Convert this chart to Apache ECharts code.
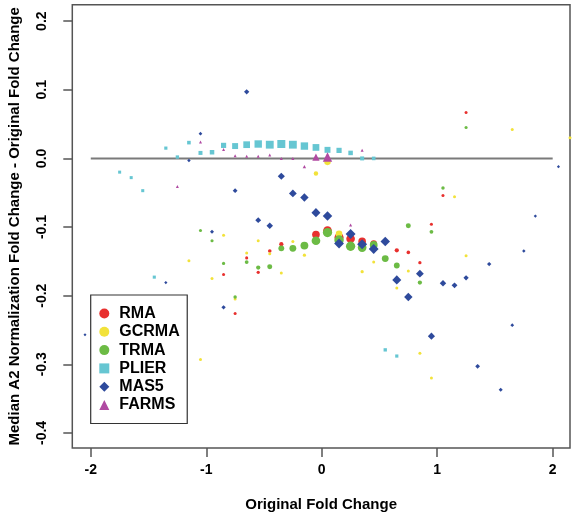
<!DOCTYPE html>
<html>
<head>
<meta charset="utf-8">
<script src="https://cdn.jsdelivr.net/npm/echarts@6/dist/echarts.min.js"></script>
<style>
html,body{margin:0;padding:0;background:#fff;}
#chart{width:576px;height:519px;}
</style>
</head>
<body>
<div id="chart"></div>
<script>
// ---- data ----
const seriesNames = ['RMA', 'GCRMA', 'TRMA', 'PLIER', 'MAS5', 'FARMS'];
const xTicks = [-2, -1, 0, 1, 2];
const yTicks = [-0.4, -0.3, -0.2, -0.1, 0.0, 0.1, 0.2];
const refLine = [[-2, 0], [2, 0]];

const rmaData = [[-0.85,-0.169],[-0.75,-0.226],[-0.65,-0.145],[-0.55,-0.166],[-0.45,-0.135],[-0.35,-0.125],
  [-0.05,-0.111],[0.05,-0.105],[0.15,-0.115],[0.25,-0.117],[0.35,-0.121],[0.45,-0.124],[0.65,-0.134],
  [0.75,-0.137],[0.85,-0.152],[0.95,-0.096],[1.05,-0.054],[1.25,0.067]];
const gcrmaData = [[-1.15,-0.149],[-1.05,-0.293],[-0.95,-0.175],[-0.85,-0.112],[-0.75,-0.205],[-0.65,-0.138],
  [-0.55,-0.120],[-0.45,-0.139],[-0.35,-0.167],[-0.25,-0.121],[-0.15,-0.141],[-0.05,-0.022],[0.05,-0.005],
  [0.15,-0.110],[0.25,-0.131],[0.35,-0.165],[0.45,-0.151],[0.65,-0.189],[0.75,-0.164],[0.85,-0.284],
  [0.95,-0.320],[1.15,-0.056],[1.25,-0.142],[1.65,0.042],[2.15,0.030]];
const trmaData = [[-1.05,-0.105],[-0.95,-0.120],[-0.85,-0.153],[-0.75,-0.202],[-0.65,-0.151],[-0.55,-0.159],
  [-0.45,-0.158],[-0.35,-0.131],[-0.25,-0.131],[-0.15,-0.127],[-0.05,-0.120],[0.05,-0.108],[0.15,-0.119],
  [0.25,-0.128],[0.35,-0.130],[0.45,-0.126],[0.55,-0.146],[0.65,-0.156],[0.75,-0.098],[0.85,-0.181],
  [0.95,-0.107],[1.05,-0.043],[1.25,0.045]];
const plierData = [[-1.75,-0.020],[-1.65,-0.028],[-1.55,-0.047],[-1.45,-0.173],[-1.35,0.015],[-1.25,0.002],
  [-1.15,0.023],[-1.05,0.008],[-0.95,0.009],[-0.85,0.019],[-0.75,0.018],[-0.65,0.020],[-0.55,0.021],
  [-0.45,0.020],[-0.35,0.021],[-0.25,0.020],[-0.15,0.018],[-0.05,0.016],[0.05,0.0125],[0.15,0.0117],
  [0.25,0.008],[0.35,0.0],[0.45,0.0],[0.55,-0.279],[0.65,-0.288]];
const mas5Data = [[-2.05,-0.257],[-1.35,-0.181],[-1.15,-0.003],[-1.05,0.036],[-0.95,-0.107],[-0.85,-0.217],
  [-0.75,-0.047],[-0.65,0.097],[-0.55,-0.090],[-0.45,-0.098],[-0.35,-0.026],[-0.25,-0.051],[-0.15,-0.057],
  [-0.05,-0.079],[0.05,-0.084],[0.15,-0.124],[0.25,-0.110],[0.35,-0.125],[0.45,-0.132],[0.55,-0.121],
  [0.65,-0.177],[0.75,-0.202],[0.85,-0.168],[0.95,-0.259],[1.05,-0.182],[1.15,-0.185],[1.25,-0.174],
  [1.35,-0.303],[1.45,-0.154],[1.55,-0.337],[1.65,-0.243],[1.75,-0.135],[1.85,-0.084],[2.05,-0.012]];
const farmsData = [[-1.25,-0.041],[-1.05,0.024],[-0.85,0.013],[-0.75,0.004],[-0.65,0.003],[-0.55,0.003],
  [-0.45,0.005],[-0.35,0.0],[-0.25,0.0],[-0.15,-0.012],[-0.05,0.002],[0.05,0.002],[0.25,-0.097],[0.35,0.012]];

// ---- styling ----
const FONT = 'Liberation Sans, Arial, Helvetica, sans-serif';
const colors = ['#e8302e', '#f2e23a', '#6cbb45', '#66c6d2', '#2e4a9c', '#b04aa2'];
const symbols = ['circle', 'circle', 'circle', 'rect', 'diamond', 'triangle'];
function sizeFn(c, w, maxS, minS) {
  return function (v) { return minS + (maxS - minS) * Math.exp(-Math.pow((v[0] - c) / w, 2)); };
}
const sizeFns = [sizeFn(0.15, 0.4, 9, 3), sizeFn(0.1, 0.15, 7, 3), sizeFn(0.15, 0.55, 9.5, 3),
  sizeFn(-0.35, 0.55, 8, 3), sizeFn(0.3, 0.9, 10, 3), sizeFn(0.02, 0.1, 10, 3)];
const allData = [rmaData, gcrmaData, trmaData, plierData, mas5Data, farmsData];

const chart = echarts.init(document.getElementById('chart'), null, {renderer: 'canvas'});

const series = [{
  type: 'line', data: refLine, silent: true, showSymbol: false, symbol: 'none',
  lineStyle: {color: '#7a7a7a', width: 2}, z: 1, animation: false
}];
seriesNames.forEach(function (name, i) {
  series.push({
    name: name, type: 'scatter', data: allData[i], symbol: symbols[i],
    symbolSize: sizeFns[i], itemStyle: {color: colors[i], opacity: 1},
    z: 2 + i, animation: false
  });
});

chart.setOption({
  animation: false,
  backgroundColor: '#fff',
  grid: {left: 72.3, right: 6, top: 4.7, bottom: 71, show: true, borderColor: '#555', borderWidth: 1.5,
    backgroundColor: 'transparent', containLabel: false, outerBoundsMode: 'none'},
  legend: {
    data: seriesNames, orient: 'vertical', left: 90.7, top: 295,
    padding: [10.5, 7.5, 10.5, 8.6], itemGap: 2.3, itemWidth: 10, itemHeight: 10,
    borderColor: '#333', borderWidth: 1.2, backgroundColor: '#fff',
    textStyle: {fontFamily: FONT, fontWeight: 'bold', fontSize: 16, color: '#000', lineHeight: 16, padding: [0, 0, 0, 5]},
    selectedMode: false
  },
  xAxis: {
    type: 'value', min: -2.16, max: 2.15,
    name: 'Original Fold Change', nameLocation: 'middle', nameGap: 49,
    nameTextStyle: {fontFamily: FONT, fontWeight: 'bold', fontSize: 15, color: '#000'},
    axisLine: {show: false, onZero: false}, splitLine: {show: false},
    axisTick: {show: true, customValues: xTicks, length: 9, lineStyle: {color: '#555', width: 1.5}},
    axisLabel: {customValues: xTicks, margin: 15, fontFamily: FONT, fontWeight: 'bold', fontSize: 14, color: '#000',
      formatter: function (v) { return String(Math.round(v)); }}
  },
  yAxis: {
    type: 'value', min: -0.422, max: 0.224,
    name: 'Median A2 Normalization Fold Change - Original Fold Change', nameLocation: 'middle', nameGap: 50,
    nameTextStyle: {fontFamily: FONT, fontWeight: 'bold', fontSize: 15, color: '#000'},
    axisLine: {show: false, onZero: false}, splitLine: {show: false},
    axisTick: {show: true, customValues: yTicks, length: 9, lineStyle: {color: '#555', width: 1.5}},
    axisLabel: {customValues: yTicks, margin: 23, rotate: 90, fontFamily: FONT, fontWeight: 'bold', fontSize: 14, color: '#000',
      formatter: function (v) { return (Math.round(v * 10) / 10).toFixed(1); }}
  },
  series: series
});
</script>
</body>
</html>
